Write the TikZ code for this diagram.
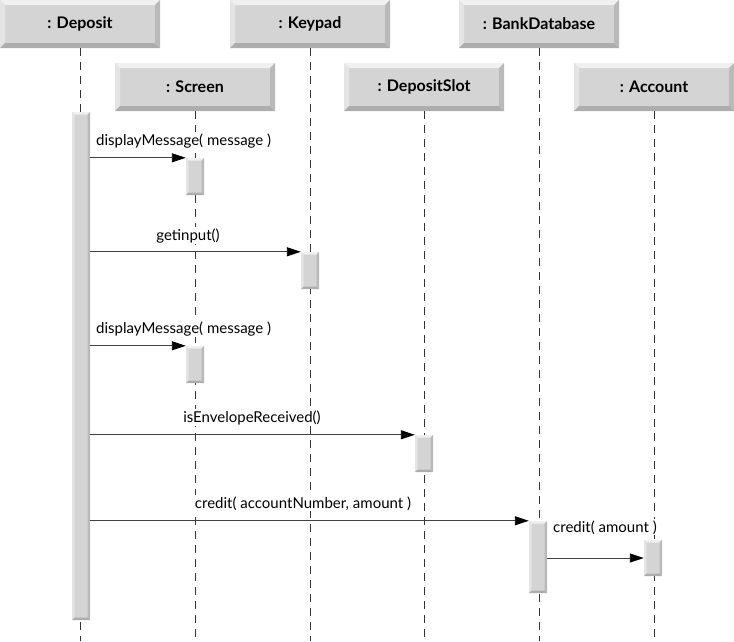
\documentclass[tikz,border=0pt]{standalone}
\usepackage{fontspec}
\setmainfont{Lato}
\usetikzlibrary{arrows.meta,positioning,calc}

\colorlet{faceGray}{black!17}
\colorlet{lightEdge}{black!6}
\colorlet{darkEdge}{black!32}

\tikzset{
  bevel/.style={fill=faceGray, path picture={
    \def\pb{path picture bounding box}
    \fill[lightEdge] (\pb.north west) -- (\pb.north east) -- ([shift={(-#1,-#1)}]\pb.north east)
      -- ([shift={(#1,-#1)}]\pb.north west) -- cycle;
    \fill[lightEdge!60!faceGray] (\pb.north west) -- ([shift={(#1,-#1)}]\pb.north west)
      -- ([shift={(#1,#1)}]\pb.south west) -- (\pb.south west) -- cycle;
    \fill[darkEdge] (\pb.south west) -- (\pb.south east) -- ([shift={(-#1,#1)}]\pb.south east)
      -- ([shift={(#1,#1)}]\pb.south west) -- cycle;
    \fill[darkEdge!70!faceGray] (\pb.north east) -- (\pb.south east) -- ([shift={(-#1,#1)}]\pb.south east)
      -- ([shift={(-#1,-#1)}]\pb.north east) -- cycle;
  }},
  objbox/.style={bevel=5pt,minimum width=160pt,minimum height=48pt,inner sep=0pt,
    font=\fontsize{16pt}{18pt}\selectfont\bfseries},
  actbar/.style={bevel=2.5pt,minimum width=18pt,inner sep=0pt},
  lifeline/.style={black!80,line width=0.9pt,dash pattern=on 8pt off 6pt},
  msg/.style={black!75,line width=0.9pt,-{Triangle[length=14pt,width=9pt,black]}},
  msglabel/.style={fill=white,inner sep=1pt,font=\fontsize{15pt}{17pt}\selectfont}
}

\begin{document}
\begin{tikzpicture}[x=1pt,y=-1pt]
\useasboundingbox (0,0) rectangle (734,641);
% objects
\node[objbox] (dep) at (80,24) {: Deposit};
\node[objbox] (kp) at (310,24) {: Keypad};
\node[objbox] (bank) at (539,24) {: BankDatabase};
\node[objbox] (scr) at (195,87) {: Screen};
\node[objbox] (slot) at (424,87) {: DepositSlot};
\node[objbox] (acc) at (654,87) {: Account};

% lifelines
\foreach \n/\x in {dep/80,kp/310,bank/539,scr/195,slot/424,acc/654}{
  \coordinate (\n End) at (\x,641);
  \draw[lifeline] (\n.south) -- (\n End);
}

% activations
\node[actbar,minimum height=508pt] (actDep) at (81,366) {};
\node[actbar,minimum height=37pt] (actScrA) at (195,176.5) {};
\node[actbar,minimum height=37pt] (actKp) at (310,270.5) {};
\node[actbar,minimum height=37pt] (actScrB) at (195,364.5) {};
\node[actbar,minimum height=37pt] (actSlot) at (424,453.5) {};
\node[actbar,minimum height=72pt] (actBank) at (538,557) {};
\node[actbar,minimum height=36pt] (actAcc) at (653,558) {};

% messages
\draw[msg] (actDep.east |- actScrA.north west) -- (actScrA.north west);
\draw[msg] (actDep.east |- actKp.north west) -- (actKp.north west);
\draw[msg] (actDep.east |- actScrB.north west) -- (actScrB.north west);
\draw[msg] (actDep.east |- actSlot.north west) -- (actSlot.north west);
\draw[msg] (actDep.east |- actBank.north west) -- (actBank.north west);
\draw[msg] (actBank.east |- actAcc.west) -- (actAcc.west);

% labels
\node[msglabel,anchor=base west] (lblShowA) at (95,145) {displayMessage( message )};
\node[msglabel,anchor=base] (lblInput) at (188,240) {getinput()};
\node[msglabel,anchor=base west] (lblShowB) at (95,333) {displayMessage( message )};
\node[msglabel,anchor=base] (lblEnv) at (252,422) {isEnvelopeReceived()};
\node[msglabel,anchor=base] (lblCredit) at (303,508) {credit( accountNumber, amount )};
\node[msglabel,anchor=base west] (lblCreditB) at (552,532) {credit( amount )};
\end{tikzpicture}
\end{document}
